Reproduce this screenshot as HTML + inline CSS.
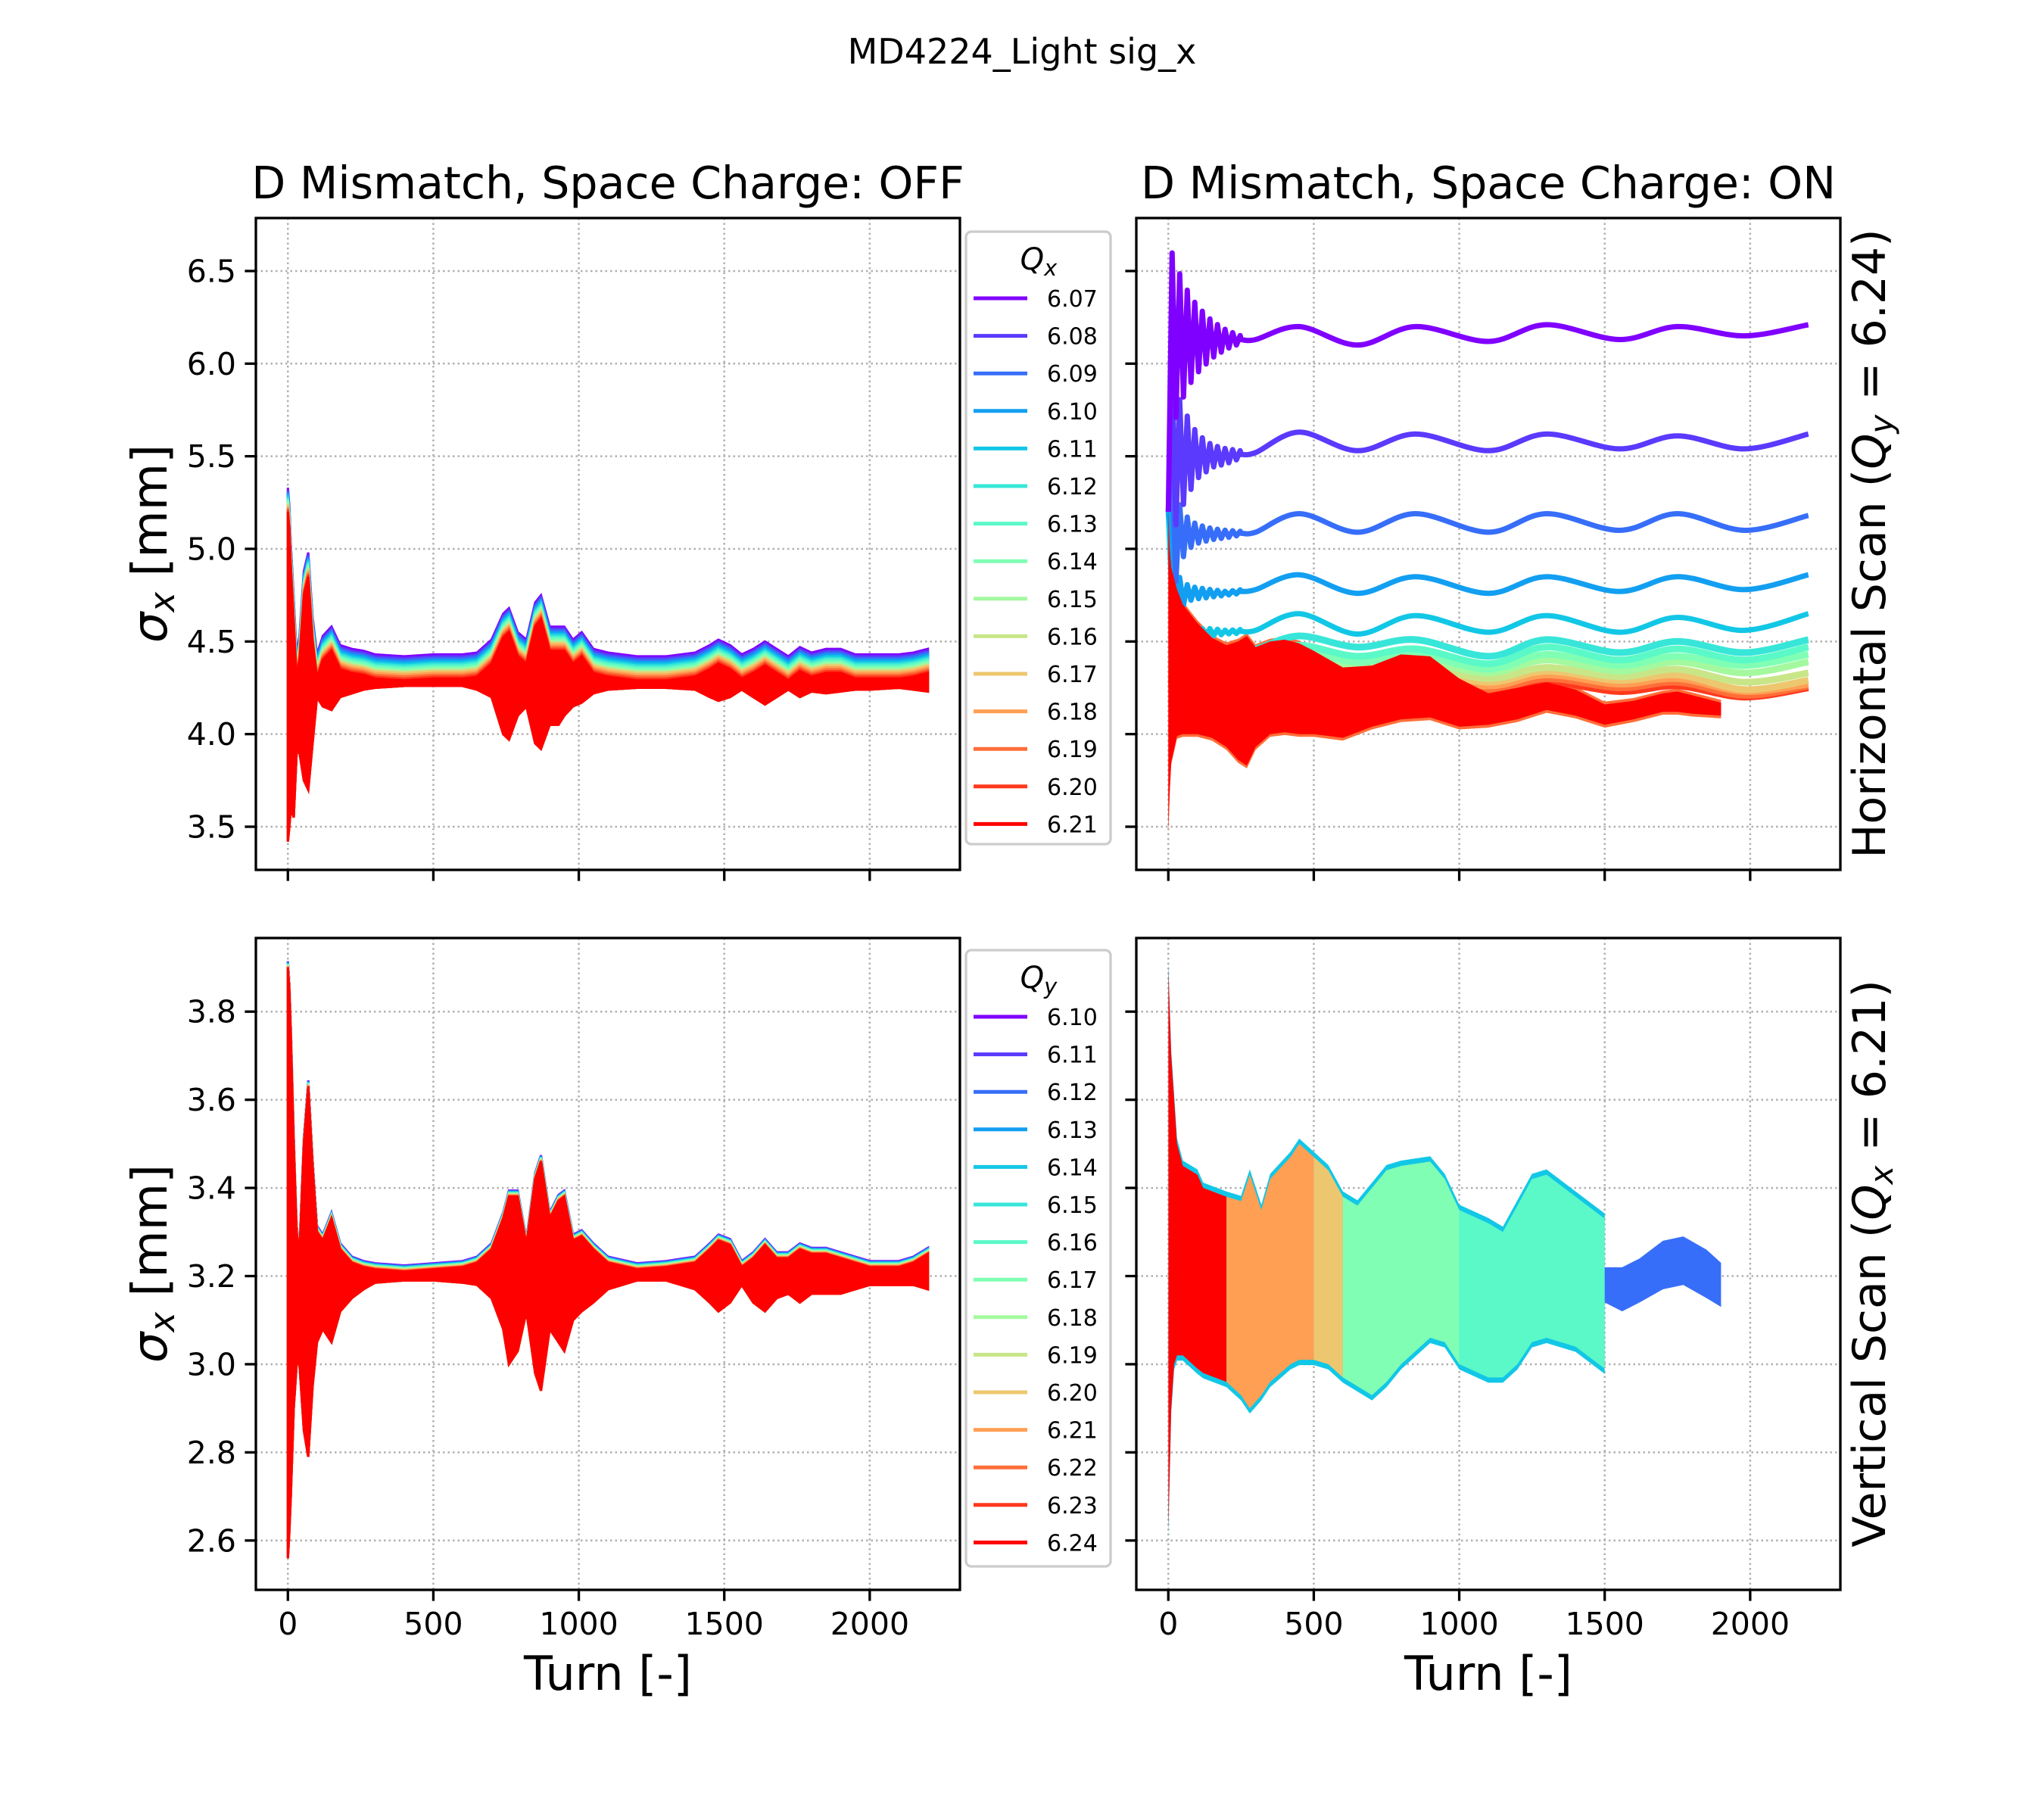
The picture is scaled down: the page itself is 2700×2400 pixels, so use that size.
<!DOCTYPE html>
<html><head><meta charset="utf-8"><style>
html,body{margin:0;padding:0;background:#fff}
svg{display:block}
text{font-family:"DejaVu Sans","Liberation Sans",sans-serif;fill:#000}
</style></head><body>
<svg id="chart" width="2700" height="2400" viewBox="0 0 2700 2400" xmlns="http://www.w3.org/2000/svg">
<rect x="0" y="0" width="2700" height="2400" fill="#fff"/>
</svg>
<script>
// ---------- data ----------
const colorsRainbow = ["#8000ff","#5b39fd","#376ef9","#129ff1","#12c7e6","#37e6d8","#5bf9c7","#80ffb4","#a4f99f","#c8e688","#edc76f","#ff9f54","#ff6e39","#ff391d","#ff0000"];
const qxLabels = ["6.07","6.08","6.09","6.10","6.11","6.12","6.13","6.14","6.15","6.16","6.17","6.18","6.19","6.20","6.21"];
const qyLabels = ["6.10","6.11","6.12","6.13","6.14","6.15","6.16","6.17","6.18","6.19","6.20","6.21","6.22","6.23","6.24"];
const xTicks = [0,500,1000,1500,2000];
const topYTicks = [3.5,4.0,4.5,5.0,5.5,6.0,6.5];
const botYTicks = [2.6,2.8,3.0,3.2,3.4,3.6,3.8];

// top-left (SC OFF, horizontal scan)
const tlTurns = [0,5,10,20,30,40,55,70,85,100,120,150,180,220,260,300,400,500,600,650,700,740,760,790,820,850,870,900,930,950,980,1010,1050,1100,1200,1300,1400,1450,1480,1520,1560,1600,1640,1680,1720,1760,1800,1850,1900,1950,2000,2100,2150,2200];
const tlRedUpper = [5.2,5.1,4.9,4.6,4.3,4.4,4.75,4.85,4.5,4.3,4.4,4.45,4.35,4.33,4.32,4.30,4.29,4.30,4.30,4.31,4.38,4.52,4.55,4.42,4.38,4.58,4.62,4.45,4.45,4.45,4.38,4.42,4.33,4.31,4.29,4.29,4.31,4.35,4.38,4.35,4.30,4.33,4.37,4.33,4.29,4.34,4.31,4.33,4.33,4.30,4.30,4.30,4.31,4.33];
const tlRedLower = [3.42,3.5,3.6,3.55,3.9,3.9,3.75,3.7,3.95,4.2,4.15,4.13,4.2,4.22,4.24,4.25,4.26,4.26,4.26,4.24,4.2,4.0,3.97,4.1,4.15,3.95,3.92,4.05,4.05,4.1,4.15,4.17,4.22,4.24,4.25,4.25,4.24,4.2,4.18,4.2,4.24,4.2,4.16,4.2,4.24,4.2,4.23,4.22,4.23,4.24,4.24,4.25,4.24,4.23];
const tlOffsets = [0.13,0.12,0.11,0.10,0.09,0.08,0.07,0.06,0.05,0.045,0.04,0.03,0.02,0.01,0];

// bottom-left (SC OFF, vertical scan)
const blTurns = [0,5,10,20,30,40,55,70,85,100,120,150,180,220,260,300,400,500,600,650,700,740,760,790,820,850,870,900,930,950,980,1010,1050,1100,1200,1300,1400,1450,1480,1520,1560,1600,1640,1680,1720,1760,1800,1850,1900,1950,2000,2100,2150,2200];
const blRedUpper = [3.9,3.85,3.75,3.5,3.3,3.25,3.5,3.63,3.45,3.3,3.28,3.33,3.26,3.23,3.22,3.215,3.21,3.215,3.22,3.23,3.26,3.33,3.38,3.38,3.27,3.42,3.46,3.33,3.37,3.38,3.28,3.29,3.26,3.23,3.215,3.22,3.23,3.26,3.28,3.27,3.22,3.24,3.27,3.24,3.24,3.26,3.25,3.25,3.24,3.23,3.22,3.22,3.23,3.25];
const blRedLower = [2.56,2.62,2.7,2.9,3.0,3.0,2.85,2.79,2.95,3.05,3.08,3.05,3.12,3.15,3.17,3.185,3.19,3.19,3.185,3.18,3.15,3.08,3.0,3.03,3.12,2.98,2.94,3.08,3.05,3.03,3.1,3.12,3.14,3.17,3.19,3.19,3.17,3.14,3.12,3.14,3.18,3.14,3.12,3.15,3.16,3.14,3.16,3.16,3.16,3.17,3.18,3.18,3.18,3.17];
const blOffsets = [0.014,0.013,0.012,0.011,0.010,0.009,0.008,0.007,0.006,0.005,0.004,0.003,0.002,0.001,0];

// top-right (SC ON, horizontal scan)
const trTurns = [0,200,300,450,650,850,1100,1300,1550,1750,1980,2200];
const tr607 = [6.13,6.13,6.13,6.20,6.10,6.20,6.12,6.21,6.13,6.20,6.15,6.21];
const tr608 = [5.50,5.50,5.52,5.63,5.53,5.62,5.53,5.62,5.54,5.61,5.54,5.62];
const tr609 = [5.08,5.08,5.09,5.19,5.09,5.19,5.09,5.19,5.10,5.19,5.10,5.18];
const tr610 = [4.76,4.76,4.78,4.86,4.76,4.85,4.76,4.85,4.77,4.85,4.78,4.86];
const tr611 = [4.55,4.55,4.56,4.65,4.54,4.64,4.55,4.64,4.55,4.63,4.56,4.65];
const tr612 = [4.45,4.45,4.46,4.53,4.47,4.51,4.42,4.51,4.44,4.50,4.44,4.51];
const tr613 = [4.42,4.42,4.43,4.48,4.42,4.46,4.38,4.47,4.40,4.46,4.40,4.47];
const tr614 = [4.40,4.40,4.41,4.45,4.39,4.43,4.35,4.43,4.37,4.42,4.37,4.43];
const tr615 = [4.38,4.38,4.39,4.42,4.36,4.40,4.33,4.40,4.34,4.39,4.33,4.39];
const tr616 = [4.36,4.36,4.37,4.40,4.34,4.37,4.30,4.36,4.31,4.35,4.28,4.33];
const tr617 = [4.34,4.34,4.35,4.38,4.32,4.35,4.28,4.34,4.29,4.32,4.24,4.29];
const tr618 = [4.32,4.32,4.33,4.36,4.30,4.33,4.26,4.32,4.27,4.30,4.23,4.27];
const tr619 = [4.30,4.30,4.31,4.34,4.28,4.31,4.24,4.30,4.25,4.28,4.21,4.26];
const tr620 = [4.28,4.28,4.29,4.32,4.26,4.29,4.22,4.28,4.23,4.26,4.20,4.25];
const trEarlyTurns = [0,20,40,70,100,150,200,250];
const trEarly607 = [0.5,0.45,0.35,0.25,0.18,0.10,0.05,0.02];
const trEarly608 = [0.5,0.40,0.30,0.20,0.12,0.06,0.04,0.02];
const trEarly609 = [0.6,0.30,0.15,0.08,0.05,0.03,0.02,0.01];
const trEarly610 = [0.5,0.20,0.08,0.04,0.03,0.02,0.01,0.01];
const trEarly611 = [0.3,0.10,0.05,0.03,0.02,0.02,0.01,0.01];
const trRedTurns = [0,5,10,30,50,100,150,200,240,270,300,350,400,450,500,600,700,800,900,1000,1100,1200,1300,1400,1500,1600,1700,1750,1800,1900];
const trRedUpper = [5.2,5.0,4.9,4.78,4.7,4.6,4.52,4.48,4.5,4.53,4.47,4.5,4.51,4.49,4.45,4.36,4.37,4.43,4.42,4.30,4.22,4.25,4.28,4.24,4.16,4.18,4.22,4.23,4.21,4.17];
const trRedLower = [3.48,3.7,3.85,3.99,4.0,4.0,3.98,3.93,3.86,3.83,3.93,4.0,4.01,4.0,4.0,3.98,4.04,4.08,4.09,4.04,4.05,4.08,4.13,4.1,4.05,4.08,4.12,4.12,4.11,4.1];

// bottom-right (SC ON, vertical scan)
const brTurns = [0,10,20,30,50,100,120,200,250,280,320,350,420,450,500,550,600,650,700,750,800,900,950,1000,1100,1150,1200,1250,1300,1400,1500];
const brUpper = [3.9,3.7,3.6,3.5,3.45,3.43,3.40,3.38,3.37,3.43,3.35,3.42,3.47,3.50,3.47,3.44,3.38,3.36,3.40,3.44,3.45,3.46,3.42,3.35,3.32,3.30,3.36,3.42,3.43,3.38,3.33];
const brLower = [2.62,2.9,3.0,3.02,3.02,2.99,2.98,2.96,2.93,2.90,2.93,2.96,3.0,3.01,3.01,3.0,2.97,2.95,2.93,2.96,3.0,3.06,3.05,3.0,2.97,2.97,3.0,3.05,3.06,3.04,2.99];
const brTailTurns = [1500,1560,1620,1700,1770,1850,1900];
const brTailUpper = [3.22,3.22,3.24,3.28,3.29,3.26,3.23];
const brTailLower = [3.14,3.12,3.14,3.17,3.18,3.15,3.13];
const brSegStart = [0,200,500,600,1000];
const brSegEnd = [200,500,600,1000,1500];
const brSegColorIdx = [14,11,10,7,6];

// ---------- helpers ----------
const NS = "http://www.w3.org/2000/svg";
const svg = document.getElementById('chart');
function mk(tag, parent){ const e=document.createElementNS(NS,tag); (parent||svg).appendChild(e); return e; }
function interp(ts, vs, t){
  if(t<=ts[0]) return vs[0];
  for(let i=1;i<ts.length;i++){ if(t<=ts[i]){ const f=(t-ts[i-1])/(ts[i]-ts[i-1]); return vs[i-1]+f*(vs[i]-vs[i-1]); } }
  return vs[vs.length-1];
}
function smoothPath(pts){
  let d="M"+pts[0][0].toFixed(1)+","+pts[0][1].toFixed(1);
  for(let i=0;i<pts.length-1;i++){
    const p0=pts[Math.max(0,i-1)],p1=pts[i],p2=pts[i+1],p3=pts[Math.min(pts.length-1,i+2)];
    const c1=[p1[0]+(p2[0]-p0[0])/6,p1[1]+(p2[1]-p0[1])/6], c2=[p2[0]-(p3[0]-p1[0])/6,p2[1]-(p3[1]-p1[1])/6];
    d+=" C"+c1[0].toFixed(1)+","+c1[1].toFixed(1)+" "+c2[0].toFixed(1)+","+c2[1].toFixed(1)+" "+p2[0].toFixed(1)+","+p2[1].toFixed(1);
  }
  return d;
}
function bandPoly(ts, up, lo, X, Y, pad){
  const a=[],b=[];
  for(let i=0;i<ts.length;i++){ a.push(X(ts[i]).toFixed(1)+","+Y(up[i]+pad).toFixed(1)); }
  for(let i=ts.length-1;i>=0;i--){ b.push(X(ts[i]).toFixed(1)+","+Y(lo[i]-pad).toFixed(1)); }
  return a.concat(b).join(" ");
}

const TOP={y0:288,y1:1149,vmax:6.786,vmin:3.267};
const BOT={y0:1239,y1:2100,vmax:3.967,vmin:2.488};
const LEFT={x0:338,x1:1268}, RIGHT={x0:1501,x1:2431};
const tmin=-110,tmax=2310;
function xs(col){ return t=> col.x0+(t-tmin)/(tmax-tmin)*(col.x1-col.x0); }
function ys(row){ return v=> row.y0+(row.vmax-v)/(row.vmax-row.vmin)*(row.y1-row.y0); }

function axesFrame(col,row,name,yticks,showY,showX){
  const X=xs(col),Y=ys(row);
  const g=mk('g'); 
  
  xTicks.forEach(t=>{ const l=mk('line',g); l.setAttribute('x1',X(t)); l.setAttribute('x2',X(t)); l.setAttribute('y1',row.y0); l.setAttribute('y2',row.y1); l.setAttribute('stroke','#b0b0b0'); l.setAttribute('stroke-width','2.5'); l.setAttribute('stroke-dasharray','2.5 4');
    
     });
  yticks.forEach(v=>{ const l=mk('line',g); l.setAttribute('x1',col.x0); l.setAttribute('x2',col.x1); l.setAttribute('y1',Y(v)); l.setAttribute('y2',Y(v)); l.setAttribute('stroke','#b0b0b0'); l.setAttribute('stroke-width','2.5'); l.setAttribute('stroke-dasharray','2.5 4');
    
     });
  const clip=mk('clipPath',g); const cid='clip_'+name; clip.setAttribute('id',cid);
  const cr=mk('rect',clip); cr.setAttribute('x',col.x0); cr.setAttribute('y',row.y0); cr.setAttribute('width',col.x1-col.x0); cr.setAttribute('height',row.y1-row.y0);
  const plot=mk('g',g); plot.setAttribute('clip-path','url(#'+cid+')');
  
  
  return {g,plot,X,Y,col,row,yticks,showY,showX};
}
function axesDecor(a){
  const {g,X,Y,col,row,yticks,showY,showX}=a;
  xTicks.forEach(t=>{ const l=mk('line',g); l.setAttribute('x1',X(t)); l.setAttribute('x2',X(t)); l.setAttribute('y1',row.y1); l.setAttribute('y2',row.y1+14.6); l.setAttribute('stroke','#000'); l.setAttribute('stroke-width','3.3');
    
    
    if(showX){ const tx=mk('text',g); tx.setAttribute('x',X(t)); tx.setAttribute('y',row.y1+59); tx.setAttribute('text-anchor','middle'); tx.setAttribute('font-size','41'); tx.textContent=String(t);
      
       } });
  yticks.forEach(v=>{ const l=mk('line',g); l.setAttribute('x1',col.x0-14.6); l.setAttribute('x2',col.x0); l.setAttribute('y1',Y(v)); l.setAttribute('y2',Y(v)); l.setAttribute('stroke','#000'); l.setAttribute('stroke-width','3.3');
    
    
    if(showY){ const tx=mk('text',g); tx.setAttribute('x',col.x0-26); tx.setAttribute('y',Y(v)+14.5); tx.setAttribute('text-anchor','end'); tx.setAttribute('font-size','41'); tx.textContent=v.toFixed(1);
      
       } });
  const r=mk('rect',g); r.setAttribute('x',col.x0); r.setAttribute('y',row.y0); r.setAttribute('width',col.x1-col.x0); r.setAttribute('height',row.y1-row.y0); r.setAttribute('fill','none'); r.setAttribute('stroke','#000'); r.setAttribute('stroke-width','3.3');
  
  
}

// ---------- top-left ----------
const aTL=axesFrame(LEFT,TOP,'axes-horizontal-sc-off',topYTicks,true,false);
tlOffsets.forEach((off,i)=>{
  const up=tlRedUpper.map(v=>v+off);
  const p=mk('polygon',aTL.plot); p.setAttribute('points',bandPoly(tlTurns,up,tlRedLower,aTL.X,aTL.Y,0)); p.setAttribute('fill',colorsRainbow[i]); p.setAttribute('stroke',colorsRainbow[i]); p.setAttribute('stroke-width','3');
  
  
});
axesDecor(aTL);

// ---------- bottom-left ----------
const aBL=axesFrame(LEFT,BOT,'axes-vertical-sc-off',botYTicks,true,true);
blOffsets.forEach((off,i)=>{
  const up=blRedUpper.map(v=>v+off);
  const p=mk('polygon',aBL.plot); p.setAttribute('points',bandPoly(blTurns,up,blRedLower,aBL.X,aBL.Y,0)); p.setAttribute('fill',colorsRainbow[i]); p.setAttribute('stroke',colorsRainbow[i]); p.setAttribute('stroke-width','3');
  
  
});
axesDecor(aBL);

// ---------- top-right ----------
const aTR=axesFrame(RIGHT,TOP,'axes-horizontal-sc-on',topYTicks,false,false);
const trSeries=[tr607,tr608,tr609,tr610,tr611,tr612,tr613,tr614,tr615,tr616,tr617,tr618,tr619,tr620];
const trEarly=[trEarly607,trEarly608,trEarly609,trEarly610,trEarly611];
const edge=mk('polygon',aTR.plot); edge.setAttribute('points',bandPoly(trRedTurns,trRedUpper,trRedLower,aTR.X,aTR.Y,0.015)); edge.setAttribute('fill',colorsRainbow[12]);


for(let i=trSeries.length-1;i>=0;i--){
  const vals=trSeries[i];
  const pts=[];
  const startT = i<trEarly.length ? 250 : 0;
  if(i<trEarly.length){
    const amps=trEarly[i]; const half=13; let sgn=1;
    pts.push([aTR.X(0),aTR.Y(5.2)]);
    for(let t=half;t<250;t+=half){ const c=interp(trTurns,vals,t); const a=interp(trEarlyTurns,amps,t); pts.push([aTR.X(t),aTR.Y(c+sgn*a)]); sgn=-sgn; }
  }
  const sm=[];
  for(let k=0;k<trTurns.length;k++){ if(trTurns[k]>=startT) sm.push([aTR.X(trTurns[k]),aTR.Y(vals[k])]); }
  let d="M"+pts.map(p=>p[0].toFixed(1)+","+p[1].toFixed(1)).join(" L");
  if(pts.length===0) d=smoothPath(sm); else { d+=" L"+smoothPath([[aTR.X(250),aTR.Y(interp(trTurns,vals,250))]].concat(sm)).slice(1); }
  const pa=mk('path',aTR.plot); pa.setAttribute('d',d); pa.setAttribute('fill','none'); pa.setAttribute('stroke',colorsRainbow[i]); pa.setAttribute('stroke-width', i<trEarly.length? '7':'9'); pa.setAttribute('stroke-linejoin','round');
  
  
}
const red=mk('polygon',aTR.plot); red.setAttribute('points',bandPoly(trRedTurns,trRedUpper,trRedLower,aTR.X,aTR.Y,0)); red.setAttribute('fill','#ff0000');


axesDecor(aTR);

// ---------- bottom-right ----------
const aBR=axesFrame(RIGHT,BOT,'axes-vertical-sc-on',botYTicks,false,true);
const cyan=mk('polygon',aBR.plot); cyan.setAttribute('points',bandPoly(brTurns,brUpper,brLower,aBR.X,aBR.Y,0.012)); cyan.setAttribute('fill',colorsRainbow[4]);


brSegStart.forEach((s,i)=>{
  const cp=mk('clipPath',aBR.plot); cp.setAttribute('id','brseg'+i);
  const r=mk('rect',cp); r.setAttribute('x',aBR.X(s)); r.setAttribute('y',BOT.y0); r.setAttribute('width',aBR.X(brSegEnd[i])-aBR.X(s)); r.setAttribute('height',BOT.y1-BOT.y0);
  const p=mk('polygon',aBR.plot); p.setAttribute('points',bandPoly(brTurns,brUpper,brLower,aBR.X,aBR.Y,0)); p.setAttribute('fill',colorsRainbow[brSegColorIdx[i]]); p.setAttribute('clip-path','url(#brseg'+i+')');
  
  
});
const tail=mk('polygon',aBR.plot); tail.setAttribute('points',bandPoly(brTailTurns,brTailUpper,brTailLower,aBR.X,aBR.Y,0)); tail.setAttribute('fill',colorsRainbow[2]);


axesDecor(aBR);

// ---------- legends ----------
function legend(y0,h,sub,labels,name){
  const g=mk('g'); 
  
  const r=mk('rect',g); r.setAttribute('x',1276); r.setAttribute('y',y0); r.setAttribute('width',191); r.setAttribute('height',h); r.setAttribute('rx',7); r.setAttribute('fill','#fff'); r.setAttribute('fill-opacity','0.8'); r.setAttribute('stroke','#cccccc'); r.setAttribute('stroke-width','3.3');
  const t=mk('text',g); t.setAttribute('x',1372); t.setAttribute('y',y0+50); t.setAttribute('text-anchor','middle'); t.setAttribute('font-size','40'); t.setAttribute('font-style','italic');
  
  
  const q=mk('tspan',t); q.textContent='Q';
  const s=mk('tspan',t); s.setAttribute('font-size','29'); s.setAttribute('dy','8'); s.textContent=sub;
  labels.forEach((lab,i)=>{
    const yy=y0+88+i*49.6;
    const l=mk('line',g); l.setAttribute('x1',1286); l.setAttribute('x2',1357); l.setAttribute('y1',yy); l.setAttribute('y2',yy); l.setAttribute('stroke',colorsRainbow[i]); l.setAttribute('stroke-width','5');
    
    
    const tx=mk('text',g); tx.setAttribute('x',1383); tx.setAttribute('y',yy+11); tx.setAttribute('font-size','30'); tx.textContent=lab;
    
    
  });
}
legend(306,809,'x',qxLabels,'legend-qx');
legend(1255,814,'y',qyLabels,'legend-qy');

// ---------- titles & labels ----------
function txt(x,y,s,size,name){
  const t=mk('text'); t.setAttribute('x',x); t.setAttribute('y',y); t.setAttribute('font-size',size); t.setAttribute('text-anchor','middle');
  t.textContent=s;
  
  
  return t;
}
txt(1350,84,'MD4224_Light sig_x',46,'figure-title');
txt(803,262,'D Mismatch, Space Charge: OFF',58.5,'title-sc-off');
txt(1966,262,'D Mismatch, Space Charge: ON',58.5,'title-sc-on');
txt(1966,2232,'Turn [-]',62,'x-axis-title-right');
txt(803,2232,'Turn [-]',62,'x-axis-title-left');
function sigLabel(cy,name){
  const t=mk('text'); t.setAttribute('x',220); t.setAttribute('y',cy); t.setAttribute('font-size','64'); t.setAttribute('text-anchor','middle'); t.setAttribute('transform','rotate(-90 220 '+cy+')');
  
  
  const a=mk('tspan',t); a.setAttribute('font-style','italic'); a.textContent='σ';
  const b=mk('tspan',t); b.setAttribute('font-style','italic'); b.setAttribute('font-size','45'); b.setAttribute('dy','10'); b.textContent='x';
  const c=mk('tspan',t); c.setAttribute('dy','-10'); c.textContent=' [mm]';
}
sigLabel(718,'y-axis-title-top');
sigLabel(1669,'y-axis-title-bottom');
function rightLabel(cy,pre,sub,post,name){
  const t=mk('text'); t.setAttribute('x',2490); t.setAttribute('y',cy); t.setAttribute('font-size','60'); t.setAttribute('text-anchor','middle'); t.setAttribute('transform','rotate(-90 2490 '+cy+')');
  
  
  const a=mk('tspan',t); a.textContent=pre;
  const q=mk('tspan',t); q.setAttribute('font-style','italic'); q.textContent='Q';
  const s=mk('tspan',t); s.setAttribute('font-style','italic'); s.setAttribute('font-size','42'); s.setAttribute('dy','10'); s.textContent=sub;
  const b=mk('tspan',t); b.setAttribute('dy','-10'); b.textContent=post;
}
rightLabel(718,'Horizontal Scan (','y',' = 6.24)','row-label-horizontal');
rightLabel(1669,'Vertical Scan (','x',' = 6.21)','row-label-vertical');
</script>
</body></html>
